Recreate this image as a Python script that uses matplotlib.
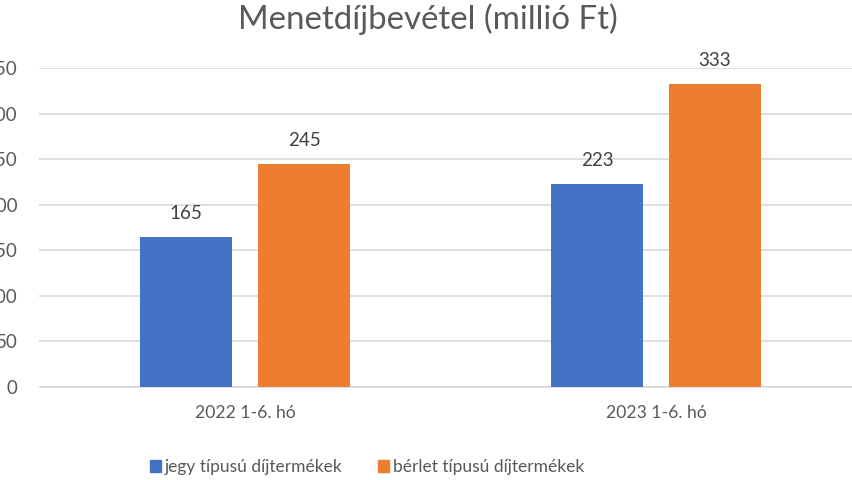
import matplotlib.pyplot as plt
from matplotlib.patches import Patch
import numpy as np

plt.rcParams['font.family'] = ['Lato', 'DejaVu Sans']

categories = ['2022 1-6. hó', '2023 1-6. hó']
series_names = ['jegy típusú díjtermékek', 'bérlet típusú díjtermékek']
jegy = [165, 223]
berlet = [245, 333]
yticks = [0, 50, 100, 150, 200, 250, 300, 350]

BLUE = '#4472C4'
ORANGE = '#ED7D31'
GRID = '#D9D9D9'
TXT = '#595959'
LBL = '#404040'


def plot_graph():
    fig = plt.figure(figsize=(8.53, 4.8), dpi=100)
    ax = fig.add_axes([39.5 / 853, 93.3 / 480, 822 / 853, 318.4 / 480])

    x = np.arange(len(categories))
    width = 0.224
    off = 0.1436
    bars = []
    bars.append(ax.bar(x - off, jegy, width, color=BLUE, zorder=3))
    bars.append(ax.bar(x + off, berlet, width, color=ORANGE, zorder=3))

    # data labels above each bar
    for b in bars:
        for rect in b:
            h = rect.get_height()
            ax.annotate(str(int(h)), (rect.get_x() + rect.get_width() / 2, h),
                        xytext=(0, 12.6), textcoords='offset points',
                        ha='center', va='baseline', fontsize=13.5, color=LBL)

    ax.set_xlim(-0.5, 1.5)
    ax.set_ylim(0, 350)
    ax.set_yticks(yticks)
    ax.set_xticks(x)
    ax.set_xticklabels(categories)
    ax.yaxis.grid(True, color=GRID, linewidth=1.2, zorder=0)
    ax.tick_params(axis='both', length=0, labelcolor=TXT)
    ax.tick_params(axis='y', pad=16, labelsize=13.5)
    ax.tick_params(axis='x', pad=13, labelsize=12.6)
    for s in ['top', 'right', 'left']:
        ax.spines[s].set_visible(False)
    ax.spines['bottom'].set_color(GRID)
    ax.spines['bottom'].set_linewidth(1.2)

    fig.text(427.5 / 853, 1 - 29.3 / 480, 'Menetdíjbevétel (millió Ft)',
             ha='center', va='baseline', fontsize=23.8, color=TXT)

    handles = [Patch(color=BLUE), Patch(color=ORANGE)]
    fig.legend(handles, series_names, loc='center',
               bbox_to_anchor=(367 / 853, 1 - 467 / 480), ncol=2, frameon=False,
               fontsize=12.5, labelcolor=TXT, handlelength=0.63, handleheight=0.63,
               handletextpad=0.25, columnspacing=2.0)

    fig.savefig('out.png', dpi=100)


if __name__ == "__main__":
    plot_graph()
